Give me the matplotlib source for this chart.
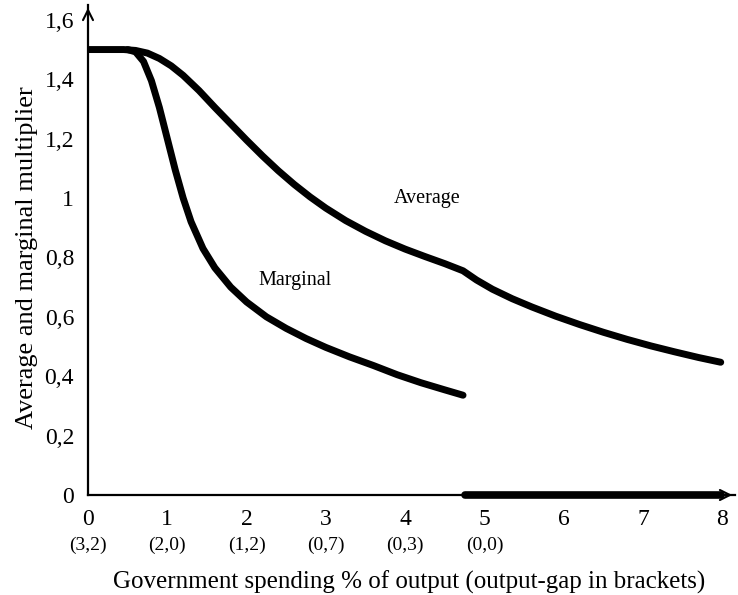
import matplotlib.pyplot as plt
from matplotlib.transforms import blended_transform_factory

plt.rcParams['font.family'] = ['Liberation Serif', 'DejaVu Serif']

# values
avg_x = [0, 0.45, 0.6, 0.75, 0.9, 1.05, 1.2, 1.4, 1.6, 1.8, 2.0, 2.2, 2.4, 2.6, 2.8, 3.0,
         3.25, 3.5, 3.75, 4.0, 4.25, 4.5, 4.73, 4.9, 5.1, 5.35, 5.6, 5.9, 6.2, 6.5, 6.8,
         7.1, 7.4, 7.7, 7.98]
avg_y = [1.5, 1.5, 1.497, 1.488, 1.47, 1.445, 1.413, 1.362, 1.305, 1.25, 1.195, 1.142,
         1.092, 1.046, 1.004, 0.966, 0.924, 0.888, 0.856, 0.828, 0.803, 0.779, 0.755, 0.724,
         0.693, 0.661, 0.633, 0.602, 0.574, 0.548, 0.524, 0.502, 0.482, 0.463, 0.447]

marg_x = [0.5, 0.6, 0.7, 0.8, 0.9, 1.0, 1.1, 1.2, 1.3, 1.45, 1.6, 1.8, 2.0, 2.25, 2.5,
          2.75, 3.0, 3.3, 3.6, 3.9, 4.2, 4.5, 4.73]
marg_y = [1.5, 1.492, 1.46, 1.395, 1.305, 1.2, 1.095, 1.0, 0.92, 0.83, 0.765, 0.7, 0.65,
          0.6, 0.561, 0.527, 0.497, 0.465, 0.436, 0.405, 0.378, 0.354, 0.336]

zero_x = [4.75, 7.98]
zero_y = [0, 0]

x_ticks = [0, 1, 2, 3, 4, 5, 6, 7, 8]
gaps = ['(3,2)', '(2,0)', '(1,2)', '(0,7)', '(0,3)', '(0,0)']
y_ticks = [0, 0.2, 0.4, 0.6, 0.8, 1.0, 1.2, 1.4, 1.6]
y_labels = ['0', '0,2', '0,4', '0,6', '0,8', '1', '1,2', '1,4', '1,6']

fig = plt.figure(figsize=(7.38, 5.95), dpi=100)
ax = fig.add_axes([88 / 738, 100 / 595, 647 / 738, 490 / 595])

kw = dict(color='black', lw=5, solid_capstyle='round', solid_joinstyle='round')
ax.plot(avg_x, avg_y, **kw)
ax.plot(marg_x, marg_y, **kw)
ax.plot(zero_x, zero_y, color='black', lw=5.5, solid_capstyle='round', clip_on=False)

ax.set_xlim(0, 8.16)
ax.set_ylim(0, 1.65)

for s in ['top', 'right']:
    ax.spines[s].set_visible(False)
for s in ['left', 'bottom']:
    ax.spines[s].set_linewidth(1.6)

# arrow heads on the axes
ax.annotate('', xy=(1, 0), xytext=(0.97, 0), xycoords='axes fraction',
            arrowprops=dict(arrowstyle='->', lw=1.5, color='black', mutation_scale=18))
ax.annotate('', xy=(0, 1), xytext=(0, 0.97), xycoords='axes fraction',
            arrowprops=dict(arrowstyle='->', lw=1.5, color='black', mutation_scale=18))

ax.set_xticks(x_ticks)
ax.set_xticklabels([str(t) for t in x_ticks], fontsize=17)
ax.set_yticks(y_ticks)
ax.set_yticklabels(y_labels, fontsize=17)
ax.tick_params(length=0, pad=10)

trans = blended_transform_factory(ax.transData, ax.transAxes)
for i, g in enumerate(gaps):
    ax.text(x_ticks[i], -0.103, g, transform=trans, ha='center', va='center', fontsize=14)

ax.text(4.28, 1.0, 'Average', fontsize=14.5, ha='center', va='center')
ax.text(2.61, 0.723, 'Marginal', fontsize=14.5, ha='center', va='center')

ax.set_xlabel('Government spending % of output (output-gap in brackets)', fontsize=18)
ax.xaxis.set_label_coords(0.496, -0.155)
ax.set_ylabel('Average and marginal multiplier', fontsize=19)
ax.yaxis.set_label_coords(-0.078, 0.485)

fig.savefig('out.png', dpi=100)
